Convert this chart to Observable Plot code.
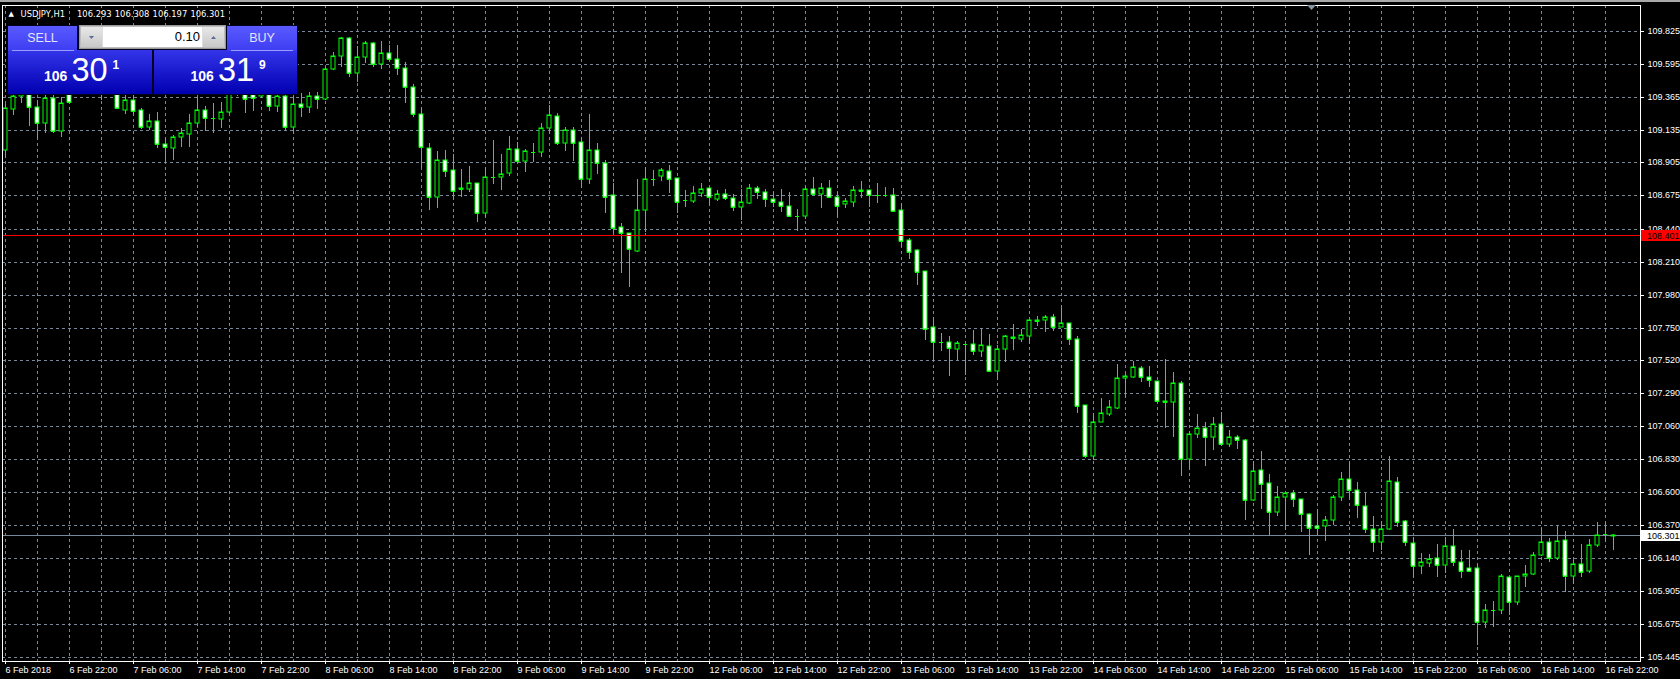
<!DOCTYPE html>
<html><head><meta charset="utf-8">
<script src="https://cdn.jsdelivr.net/npm/d3@7"></script>
<script src="https://cdn.jsdelivr.net/npm/@observablehq/plot@0.6"></script>
<style>
html,body{margin:0;padding:0;background:#000;overflow:hidden}
#chart{position:relative;width:1680px;height:679px}
</style></head><body><div id="chart"></div>
<script>
// ---- data (USDJPY H1, 6 Feb 2018 14:00 .. 16 Feb 2018 23:00) ----
const opens=[108.993,109.277,109.371,109.413,109.291,109.179,109.354,109.125,109.385,109.385,109.455,109.497,109.441,109.469,109.511,109.273,109.343,109.273,109.156,109.195,109.032,109.009,109.081,109.102,109.184,109.273,109.219,109.210,109.256,109.399,109.427,109.385,109.371,109.427,109.301,109.371,109.151,109.315,109.291,109.371,109.347,109.557,109.650,109.774,109.529,109.641,109.739,109.595,109.669,109.627,109.564,109.431,109.242,109.004,108.666,108.923,108.853,108.724,108.719,108.759,108.549,108.806,108.801,108.829,108.997,108.918,108.981,108.981,109.144,109.230,109.044,109.133,109.049,108.792,108.993,108.904,108.675,108.451,108.409,108.288,108.573,108.792,108.813,108.843,108.794,108.645,108.638,108.694,108.724,108.652,108.682,108.654,108.596,108.624,108.724,108.696,108.647,108.631,108.603,108.533,108.533,108.717,108.682,108.724,108.666,108.612,108.631,108.710,108.710,108.680,108.680,108.675,108.573,108.363,108.293,108.143,107.751,107.651,107.646,107.601,107.636,107.632,107.588,107.618,107.448,107.597,107.681,107.671,107.690,107.800,107.802,107.821,107.756,107.779,107.667,107.205,106.853,107.091,107.146,107.189,107.394,107.406,107.464,107.401,107.373,107.233,107.226,107.359,106.827,107.002,107.044,106.981,107.072,106.932,106.981,106.965,106.540,106.750,106.659,106.463,106.561,106.589,106.547,106.449,106.365,106.363,106.407,106.561,106.687,106.610,106.505,106.344,106.251,106.344,106.666,106.395,106.246,106.085,106.104,106.138,106.092,106.225,106.113,106.071,106.071,105.691,105.777,105.777,106.005,105.831,106.012,106.029,106.157,106.253,106.138,106.267,106.015,106.099,106.047,106.232,106.307,106.293];
const highs=[109.315,109.413,109.427,109.441,109.343,109.399,109.413,109.366,109.427,109.497,109.539,109.553,109.525,109.567,109.539,109.399,109.399,109.287,109.242,109.261,109.074,109.098,109.144,109.245,109.366,109.301,109.324,109.331,109.427,109.469,109.469,109.413,109.455,109.455,109.413,109.399,109.371,109.389,109.401,109.401,109.576,109.681,109.786,109.784,109.721,109.758,109.751,109.758,109.727,109.727,109.611,109.455,109.291,109.039,108.985,108.993,108.965,108.859,108.880,108.761,108.871,109.063,108.965,109.091,109.048,108.997,109.039,109.184,109.307,109.254,109.156,109.156,109.086,109.245,109.039,108.923,108.759,108.479,108.412,108.789,108.871,108.853,108.869,108.887,108.797,108.713,108.741,108.759,108.727,108.713,108.717,108.685,108.717,108.755,108.741,108.717,108.701,108.719,108.696,108.577,108.741,108.806,108.759,108.783,108.701,108.654,108.741,108.775,108.712,108.764,108.731,108.726,108.619,108.374,108.297,108.145,107.822,107.714,107.690,107.657,107.638,107.732,107.748,107.705,107.627,107.697,107.774,107.741,107.811,107.830,107.840,107.845,107.908,107.781,107.690,107.207,107.149,107.254,107.243,107.495,107.434,107.515,107.480,107.480,107.375,107.527,107.436,107.378,107.025,107.142,107.086,107.126,107.156,107.032,106.998,106.967,106.815,106.885,106.725,106.640,106.593,106.613,106.549,106.451,106.484,106.430,106.575,106.741,106.811,106.668,106.589,106.430,106.398,106.850,106.701,106.402,106.286,106.176,106.169,106.239,106.286,106.344,106.197,106.197,106.099,105.815,105.835,106.024,106.007,106.015,106.087,106.179,106.349,106.281,106.367,106.327,106.122,106.235,106.269,106.389,106.389,106.308];
const lows=[108.934,109.237,109.324,109.160,109.069,109.109,109.111,109.081,109.321,109.381,109.413,109.413,109.343,109.427,109.284,109.242,109.237,109.137,109.133,109.004,108.911,108.923,109.016,109.016,109.156,109.128,109.114,109.144,109.249,109.371,109.254,109.268,109.357,109.268,109.261,109.128,109.109,109.226,109.254,109.277,109.343,109.553,109.576,109.506,109.471,109.599,109.576,109.557,109.611,109.517,109.324,109.221,108.864,108.573,108.589,108.806,108.643,108.661,108.701,108.491,108.521,108.755,108.713,108.813,108.895,108.841,108.906,108.946,109.109,109.027,108.988,108.918,108.729,108.755,108.825,108.554,108.409,108.129,108.036,108.281,108.421,108.740,108.778,108.689,108.554,108.596,108.624,108.661,108.607,108.638,108.643,108.568,108.503,108.615,108.647,108.596,108.596,108.561,108.526,108.428,108.507,108.670,108.589,108.661,108.526,108.584,108.596,108.659,108.596,108.619,108.661,108.568,108.311,108.232,108.048,107.662,107.518,107.588,107.410,107.523,107.417,107.557,107.546,107.448,107.382,107.511,107.592,107.651,107.634,107.760,107.721,107.728,107.751,107.627,107.154,106.839,106.823,107.089,107.131,107.180,107.259,107.399,107.371,107.336,107.219,107.044,106.986,106.713,106.757,106.979,106.783,106.893,106.923,106.916,106.900,106.402,106.538,106.479,106.295,106.431,106.337,106.496,106.321,106.157,106.298,106.255,106.368,106.538,106.547,106.419,106.314,106.181,106.193,106.337,106.356,106.220,106.006,106.024,106.076,106.006,106.034,106.080,105.999,106.048,105.527,105.649,105.656,105.745,105.738,105.808,105.936,106.018,106.152,106.111,106.127,105.900,105.959,106.006,106.034,106.216,106.251,106.197];
const closes=[109.284,109.371,109.399,109.291,109.179,109.354,109.125,109.319,109.326,109.455,109.497,109.441,109.469,109.511,109.284,109.343,109.268,109.156,109.195,109.032,109.011,109.081,109.109,109.179,109.273,109.219,109.217,109.256,109.399,109.427,109.347,109.354,109.427,109.301,109.371,109.151,109.315,109.291,109.371,109.347,109.557,109.650,109.774,109.534,109.641,109.739,109.595,109.674,109.627,109.564,109.431,109.242,109.011,108.666,108.923,108.848,108.708,108.717,108.759,108.549,108.806,108.805,108.822,108.997,108.918,108.985,108.980,109.144,109.237,109.044,109.133,109.044,108.792,108.993,108.899,108.666,108.449,108.409,108.297,108.573,108.787,108.790,108.853,108.792,108.631,108.643,108.694,108.717,108.661,108.682,108.654,108.591,108.626,108.724,108.696,108.647,108.626,108.603,108.533,108.531,108.717,108.682,108.724,108.666,108.603,108.633,108.710,108.708,108.675,108.678,108.678,108.568,108.358,108.281,108.141,107.741,107.651,107.649,107.604,107.641,107.634,107.588,107.627,107.448,107.597,107.690,107.679,107.695,107.800,107.798,107.821,107.756,107.779,107.667,107.203,106.853,107.091,107.149,107.191,107.394,107.413,107.471,107.401,107.380,107.233,107.231,107.359,106.827,107.002,107.044,106.981,107.072,106.932,106.981,106.960,106.540,106.743,106.657,106.463,106.561,106.589,106.547,106.449,106.351,106.351,106.407,106.561,106.687,106.610,106.512,106.344,106.251,106.344,106.673,106.391,106.251,106.085,106.109,106.134,106.092,106.225,106.113,106.050,106.050,105.691,105.777,105.775,106.010,105.831,106.015,106.029,106.162,106.253,106.138,106.260,106.015,106.099,106.043,106.232,106.302,106.305,106.301];

const xTickIdx=[0,8,16,24,32,40,48,56,64,72,80,88,96,104,112,120,128,136,144,152,160,168,176,184,192,200];
const xTickLabels=["6 Feb 2018","6 Feb 22:00","7 Feb 06:00","7 Feb 14:00","7 Feb 22:00","8 Feb 06:00","8 Feb 14:00","8 Feb 22:00","9 Feb 06:00","9 Feb 14:00","9 Feb 22:00","12 Feb 06:00","12 Feb 14:00","12 Feb 22:00","13 Feb 06:00","13 Feb 14:00","13 Feb 22:00","14 Feb 06:00","14 Feb 14:00","14 Feb 22:00","15 Feb 06:00","15 Feb 14:00","15 Feb 22:00","16 Feb 06:00","16 Feb 14:00","16 Feb 22:00"];
const yTicks=[109.825,109.595,109.365,109.135,108.905,108.675,108.440,108.210,107.980,107.750,107.520,107.290,107.060,106.830,106.600,106.370,106.140,105.905,105.675,105.445];
const gridIdx=[0,4,8,12,16,20,24,28,32,36,40,44,48,52,56,60,64,68,72,76,80,84,88,92,96,100,104,108,112,116,120,124,128,132,136,140,144,148,152,156,160,164,168,172,176,180,184,188,192,196,200];
const redLevel=[108.401];
const bidLevel=[106.301];
const titleSymbol="USDJPY,H1";
const titleOHLC=["106.293","106.308","106.197","106.301"];
const lotSize="0.10";
const sellQuote={big:"106",mid:"30",pip:"1"};
const buyQuote={big:"106",mid:"31",pip:"9"};

const candles=opens.map((o,i)=>({i,open:o,high:highs[i],low:lows[i],close:closes[i]}));
const GREEN="#00ff00", GRID="#778899";
const FONT="'Liberation Sans', Arial, sans-serif";

const chart=Plot.plot({
  width:1680,height:679,
  marginLeft:2,marginRight:40,marginTop:5,marginBottom:18,
  style:{background:"#000",color:"#fff",fontFamily:FONT,fontSize:"9px"},
  x:{type:"linear",domain:[0,201],range:[5,1613],round:true},
  y:{type:"linear",domain:[105.445,109.825],range:[657,31],round:true},
  color:{type:"identity"},
  marks:[
    Plot.ruleX(gridIdx,{stroke:GRID,strokeDasharray:"3,3"}),
    Plot.ruleY(yTicks,{stroke:GRID,strokeDasharray:"3,3"}),
    Plot.ruleY(bidLevel,{stroke:GRID}),
    Plot.ruleX(candles,{x:"i",y1:"low",y2:"high",stroke:GREEN}),
    Plot.rect(candles,{x1:d=>d.i-0.25,x2:d=>d.i+0.25,y1:"open",y2:"close",fill:d=>d.close>d.open?"#000000":"#ffffff",stroke:GREEN}),
    Plot.ruleY(candles,{y:"close",x1:d=>d.i-0.25,x2:d=>d.i+0.25,stroke:GREEN}),
    Plot.ruleY(redLevel,{stroke:"#ff0000"}),
    Plot.axisX(xTickIdx,{anchor:"bottom",label:null,tickFormat:(d)=>xTickLabels[xTickIdx.indexOf(d)],textAnchor:"start",tickSize:3,tickPadding:2,color:"#fff",fontSize:9}),
    Plot.axisY(yTicks,{anchor:"right",label:null,tickFormat:d3.format(".3f"),tickSize:3,tickPadding:4,color:"#fff",fontSize:9}),
    Plot.frame({stroke:"#ffffff"})
  ]
});
document.getElementById("chart").appendChild(chart);

// ---- overlays drawn into the same SVG ----
const svg=d3.select(chart);
const ys=chart.scale("y");
// window edge
svg.append("rect").attr("x",0).attr("y",0).attr("width",1680).attr("height",2).attr("fill","#a8a8a8");
// price tags on the right axis
function tag(v,bg){
  const y=Math.round(ys.apply(v));
  svg.append("rect").attr("x",1641).attr("y",y-5).attr("width",39).attr("height",11).attr("fill",bg);
  svg.append("text").attr("x",1647).attr("y",y+0.5).attr("dy","0.35em").attr("fill","#000")
    .attr("text-anchor","start").attr("font-family",FONT).attr("font-size",9).text(d3.format(".3f")(v));
}
tag(redLevel[0],"#ff0000");
tag(bidLevel[0],"#ffffff");

// title
const t=svg.append("g").attr("font-family","'DejaVu Sans', Verdana, sans-serif").attr("font-size",8.4).attr("fill","#fff").attr("text-anchor","start");
t.append("text").attr("x",8.5).attr("y",16).attr("font-size",7).text("▲");
t.append("text").attr("x",20.5).attr("y",16.7).text(titleSymbol);
t.append("text").attr("x",77).attr("y",16.7).attr("word-spacing","0.5px").text(titleOHLC.join(" "));

// chart shift marker
svg.append("path").attr("d","M1307,5 L1316,5 L1311.5,10 Z").attr("fill","#8a96a8");

// one-click trading panel
const defs=svg.append("defs");
const g1=defs.append("linearGradient").attr("id","btn").attr("x1",0).attr("y1",0).attr("x2",0).attr("y2",1);
g1.append("stop").attr("offset","0%").attr("stop-color","#5a5aff");
g1.append("stop").attr("offset","100%").attr("stop-color","#3d3df2");
const g2=defs.append("linearGradient").attr("id","blk").attr("x1",0).attr("y1",0).attr("x2",0).attr("y2",1);
g2.append("stop").attr("offset","0%").attr("stop-color","#3434ea");
g2.append("stop").attr("offset","100%").attr("stop-color","#0000b0");
const g3=defs.append("linearGradient").attr("id","gry").attr("x1",0).attr("y1",0).attr("x2",0).attr("y2",1);
g3.append("stop").attr("offset","0%").attr("stop-color","#e8e8e8");
g3.append("stop").attr("offset","100%").attr("stop-color","#c8c8c8");

const p=svg.append("g").attr("font-family",FONT).attr("text-anchor","start");
p.append("rect").attr("x",7).attr("y",25).attr("width",291).attr("height",70).attr("fill","#000022");
// price blocks
p.append("rect").attr("x",8).attr("y",50).attr("width",144).attr("height",44).attr("fill","url(#blk)");
p.append("rect").attr("x",154).attr("y",50).attr("width",143).attr("height",44).attr("fill","url(#blk)");
// buttons
p.append("rect").attr("x",8).attr("y",26).attr("width",69).attr("height",25).attr("fill","url(#btn)");
p.append("rect").attr("x",227).attr("y",26).attr("width",70).attr("height",25).attr("fill","url(#btn)");
p.append("line").attr("x1",12).attr("x2",74).attr("y1",50.5).attr("y2",50.5).attr("stroke","#9a9aff");
p.append("line").attr("x1",231).attr("x2",293).attr("y1",50.5).attr("y2",50.5).attr("stroke","#9a9aff");
p.append("text").attr("x",42.5).attr("y",42).attr("text-anchor","middle").attr("font-size",12.5).attr("fill","#e4e4ff").text("SELL");
p.append("text").attr("x",262).attr("y",42).attr("text-anchor","middle").attr("font-size",12.5).attr("fill","#e4e4ff").text("BUY");
// lot box
p.append("rect").attr("x",79.5).attr("y",25.5).attr("width",146).attr("height",23).attr("fill","#bdbdbd").attr("stroke","#9a9a9a");
p.append("rect").attr("x",81).attr("y",27).attr("width",21).attr("height",20).attr("fill","url(#gry)");
p.append("rect").attr("x",203).attr("y",27).attr("width",21).attr("height",20).attr("fill","url(#gry)");
p.append("rect").attr("x",102.5).attr("y",27).attr("width",100).attr("height",20).attr("fill","#ffffff");
p.append("path").attr("d","M89,36 L94,36 L91.5,39 Z").attr("fill","#5a6a9a");
p.append("path").attr("d","M211,39 L216,39 L213.5,36 Z").attr("fill","#5a6a9a");
p.append("text").attr("x",200).attr("y",41.3).attr("text-anchor","end").attr("font-size",13).attr("fill","#000").text(lotSize);
// quotes
function quote(x0,q){
  p.append("text").attr("x",x0).attr("y",80.7).attr("font-size",14).attr("font-weight","bold").attr("fill","#fff").text(q.big);
  p.append("text").attr("x",x0+27.5).attr("y",80.7).attr("font-size",32.5).attr("fill","#fff").text(q.mid);
  p.append("text").attr("x",x0+68.5).attr("y",69).attr("font-size",12).attr("font-weight","bold").attr("fill","#fff").text(q.pip);
}
quote(44,sellQuote);
quote(190.5,buyQuote);
</script></body></html>
